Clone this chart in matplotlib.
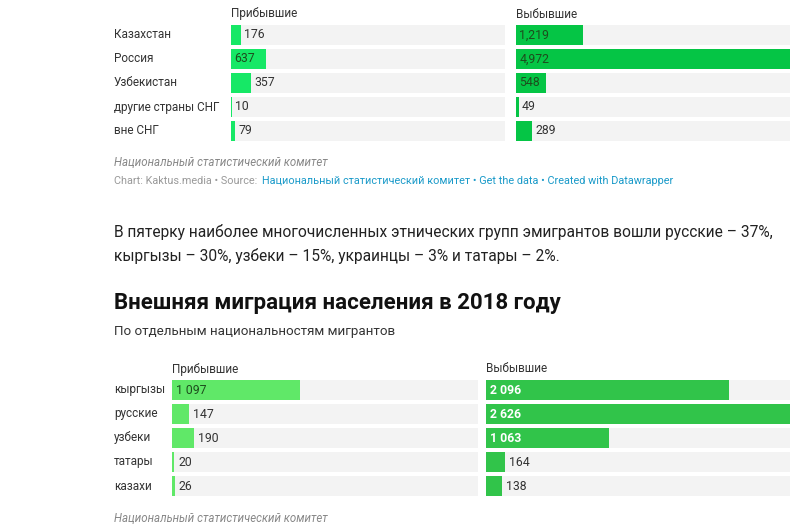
import matplotlib
matplotlib.use("Agg")
import matplotlib.pyplot as plt

plt.rcParams['font.family'] = ['Roboto', 'DejaVu Sans']

cats1 = ["Казахстан", "Россия", "Узбекистан", "другие страны СНГ", "вне СНГ"]
arr1 = [176, 637, 357, 10, 79]
dep1 = [1219, 4972, 548, 49, 289]
lab_arr1 = ["176", "637", "357", "10", "79"]
lab_dep1 = ["1,219", "4,972", "548", "49", "289"]

cats2 = ["кыргызы", "русские", "узбеки", "татары", "казахи"]
arr2 = [1097, 147, 190, 20, 26]
dep2 = [2096, 2626, 1063, 164, 138]
lab_arr2 = ["1 097", "147", "190", "20", "26"]
lab_dep2 = ["2 096", "2 626", "1 063", "164", "138"]

W, H = 798, 532
fig = plt.figure(figsize=(W/100, H/100), dpi=100)
fig.patch.set_facecolor("white")

def px(x, y):
    return x / W, 1 - y / H

def panel(x0, x1, ytop, ybot, vals, labels, vmax, color, inside_color, inside_bold, thresh):
    ax = fig.add_axes([x0/W, 1-ybot/H, (x1-x0)/W, (ybot-ytop)/H])
    n = len(vals)
    ys = list(range(n))
    ax.barh(ys, [vmax]*n, height=0.82, color="#f3f3f3", left=0)
    ax.barh(ys, vals, height=0.82, color=color, left=0)
    for y, v, l in zip(ys, vals, labels):
        if v / vmax > thresh:
            ax.text(vmax*0.012, y, l, va="center", ha="left", fontsize=8.8,
                    color=inside_color, fontweight="bold" if inside_bold else "normal")
        else:
            ax.text(v + vmax*0.012, y, l, va="center", ha="left", fontsize=8.8, color="#333333")
    ax.set_xlim(0, vmax)
    ax.set_ylim(n-0.5, -0.5)
    ax.axis("off")
    return ax

# chart 1
vmax1 = max(dep1)
fig.text(*px(231, 14), "Прибывшие", fontsize=8.5, color="#333333", va="center")
fig.text(*px(516, 14), "Выбывшие", fontsize=8.5, color="#333333", va="center")
rows1 = [35, 59, 83, 107, 131]
for c, y in zip(cats1, rows1):
    fig.text(*px(114, y), c, fontsize=8.5, color="#333333", va="center")
panel(231, 505, 23, 143, arr1, lab_arr1, vmax1, "#16e866", "#1d4d1d", False, 0.1)
panel(516, 790, 23, 143, dep1, lab_dep1, vmax1, "#05c545", "#1d4d1d", False, 0.1)
fig.text(*px(114, 162), "Национальный статистический комитет", fontsize=8.3, style="italic", color="#888888", va="center")
fig.text(*px(114, 181), "Chart: Kaktus.media • Source: ", fontsize=7.8, color="#999999", va="center")
fig.text(*px(262, 181), "Национальный статистический комитет • Get the data • Created with Datawrapper",
         fontsize=7.8, color="#1a9ac9", va="center")

fig.text(*px(114, 232), "В пятерку наиболее многочисленных этнических групп эмигрантов вошли русские – 37%,",
         fontsize=11.2, color="#222222", va="center")
fig.text(*px(114, 256), "кыргызы – 30%, узбеки – 15%, украинцы – 3% и татары – 2%.",
         fontsize=11.2, color="#222222", va="center")
fig.text(*px(114, 303), "Внешняя миграция населения в 2018 году", fontsize=16, fontweight="bold",
         color="#111111", va="center")
fig.text(*px(114, 332), "По отдельным национальностям мигрантов", fontsize=9.6, color="#333333", va="center")

# chart 2
vmax2 = max(dep2)
fig.text(*px(172, 369), "Прибывшие", fontsize=8.5, color="#333333", va="center")
fig.text(*px(486, 369), "Выбывшие", fontsize=8.5, color="#333333", va="center")
rows2 = [390, 413, 438, 462, 486]
for c, y in zip(cats2, rows2):
    fig.text(*px(114, y), c, fontsize=8.5, color="#333333", va="center")
panel(172, 478, 378, 498, arr2, lab_arr2, vmax2, "#60e868", "#1d4d1d", False, 0.3)
panel(486, 790, 378, 498, dep2, lab_dep2, vmax2, "#31c44a", "white", True, 0.3)
fig.text(*px(114, 518), "Национальный статистический комитет", fontsize=8.3, style="italic", color="#888888", va="center")

fig.savefig("out.png", dpi=100, facecolor="white")
